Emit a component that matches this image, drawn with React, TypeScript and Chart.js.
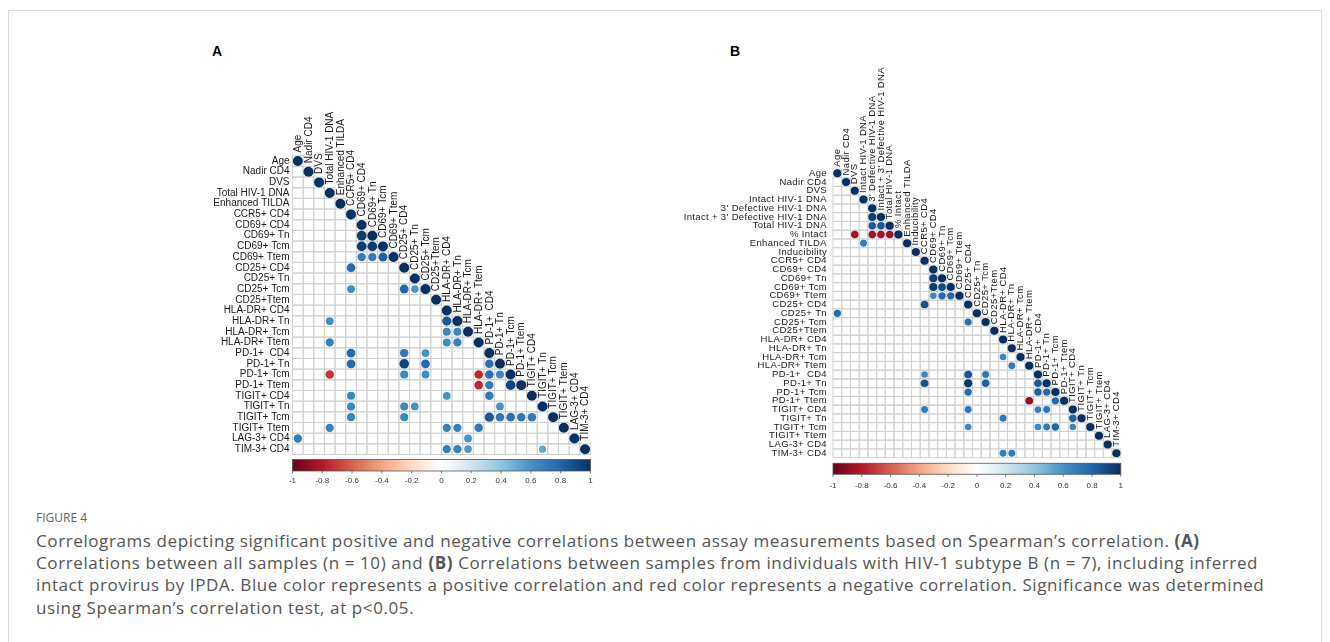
import React, { useEffect, useRef } from "react";
import { Chart, registerables } from "chart.js";
Chart.register(...registerables);

// ---------- DATA ----------
const labelsA = [
  "Age", "Nadir CD4", "DVS", "Total HIV-1 DNA", "Enhanced TILDA", "CCR5+ CD4",
  "CD69+ CD4", "CD69+ Tn", "CD69+ Tcm", "CD69+ Ttem", "CD25+ CD4", "CD25+ Tn",
  "CD25+ Tcm", "CD25+Ttem", "HLA-DR+ CD4", "HLA-DR+ Tn", "HLA-DR+ Tcm", "HLA-DR+ Ttem",
  "PD-1+  CD4", "PD-1+ Tn", "PD-1+ Tcm", "PD-1+ Ttem", "TIGIT+ CD4", "TIGIT+ Tn",
  "TIGIT+ Tcm", "TIGIT+ Ttem", "LAG-3+ CD4", "TIM-3+ CD4",
];

// [row, col, rho] significant off-diagonal correlations (lower triangle)
const corrA: [number, number, number][] = [
  [7, 6, 0.95], [8, 6, 0.95], [8, 7, 0.95], [9, 6, 0.7], [9, 7, 0.7], [9, 8, 0.82],
  [10, 5, 0.78],
  [12, 5, 0.62], [12, 10, 0.8], [12, 11, 0.58],
  [15, 3, 0.62], [15, 14, 0.85],
  [16, 14, 0.65], [16, 15, 0.65],
  [17, 3, 0.68], [17, 14, 0.62], [17, 15, 0.68],
  [18, 5, 0.78], [18, 10, 0.72], [18, 12, 0.6],
  [19, 5, 0.78], [19, 10, 0.92], [19, 12, 0.78], [19, 18, 0.75],
  [20, 3, -0.72], [20, 10, 0.66], [20, 12, 0.62], [20, 17, -0.75], [20, 18, 0.75], [20, 19, 0.65],
  [21, 17, -0.75], [21, 18, 0.7], [21, 20, 0.93],
  [22, 5, 0.65], [22, 14, 0.6], [22, 18, 0.72],
  [23, 5, 0.65], [23, 10, 0.65], [23, 11, 0.6], [23, 19, 0.6],
  [24, 5, 0.65], [24, 10, 0.65], [24, 18, 0.85], [24, 19, 0.72], [24, 20, 0.75], [24, 21, 0.72], [24, 22, 0.72],
  [25, 3, 0.68], [25, 14, 0.68], [25, 15, 0.68], [25, 17, 0.72],
  [26, 0, 0.7], [26, 16, 0.6],
  [27, 14, 0.68], [27, 15, 0.68], [27, 16, 0.58], [27, 23, 0.52],
];

const labelsB = [
  "Age", "Nadir CD4", "DVS", "Intact HIV-1 DNA", "3' Defective HIV-1 DNA",
  "Intact + 3' Defective HIV-1 DNA", "Total HIV-1 DNA", "% Intact", "Enhanced TILDA",
  "Inducibility", "CCR5+ CD4", "CD69+ CD4", "CD69+ Tn", "CD69+ Tcm", "CD69+ Ttem",
  "CD25+ CD4", "CD25+ Tn", "CD25+ Tcm", "CD25+Ttem", "HLA-DR+ CD4", "HLA-DR+ Tn",
  "HLA-DR+ Tcm", "HLA-DR+ Ttem", "PD-1+  CD4", "PD-1+ Tn", "PD-1+ Tcm", "PD-1+ Ttem",
  "TIGIT+ CD4", "TIGIT+ Tn", "TIGIT+ Tcm", "TIGIT+ Ttem", "LAG-3+ CD4", "TIM-3+ CD4",
];

const corrB: [number, number, number][] = [
  [5, 4, 0.95], [6, 4, 0.85], [6, 5, 0.85],
  [7, 2, -0.85], [7, 4, -0.85], [7, 5, -0.85], [7, 6, -0.85],
  [8, 3, 0.7],
  [12, 11, 0.95], [13, 11, 0.95], [13, 12, 0.9], [14, 11, 0.65], [14, 12, 0.78], [14, 13, 0.78],
  [15, 10, 0.88],
  [16, 0, 0.78],
  [17, 15, 0.75],
  [21, 19, 0.65], [22, 20, 0.7],
  [23, 10, 0.65], [23, 15, 0.88], [23, 17, 0.72],
  [24, 10, 0.88], [24, 15, 0.97], [24, 17, 0.82], [24, 23, 0.85],
  [25, 15, 0.78], [25, 23, 0.82], [25, 24, 0.78],
  [26, 22, -0.88], [26, 25, 0.78],
  [27, 10, 0.7], [27, 15, 0.72], [27, 23, 0.68], [27, 24, 0.72],
  [28, 19, 0.72], [28, 27, 0.82],
  [29, 15, 0.65], [29, 23, 0.65], [29, 24, 0.7], [29, 25, 0.8], [29, 27, 0.65],
  [32, 19, 0.7], [32, 20, 0.7],
];

const colorbarTicks = [-1, -0.8, -0.6, -0.4, -0.2, 0, 0.2, 0.4, 0.6, 0.8, 1];
const colorbarTickText = ["-1", "-0.8", "-0.6", "-0.4", "-0.2", "0", "0.2", "0.4", "0.6", "0.8", "1"];
const rdbu = ["#67001F", "#B2182B", "#D6604D", "#F4A582", "#FDDBC7", "#FFFFFF",
  "#D1E5F0", "#92C5DE", "#4393C3", "#2166AC", "#053061"];

const captionLine1 = "Correlograms depicting significant positive and negative correlations between assay measurements based on Spearman\u2019s correlation. ";
const captionLine2a = "Correlations between all samples (n = 10) and ";
const captionLine2b = " Correlations between samples from individuals with HIV-1 subtype B (n = 7), including inferred";
const captionLine3 = "intact provirus by IPDA. Blue color represents a positive correlation and red color represents a negative correlation. Significance was determined";
const captionLine4 = "using Spearman\u2019s correlation test, at p<0.05.";

// ---------- helpers ----------
function hexToRgb(h: string) {
  return [parseInt(h.slice(1, 3), 16), parseInt(h.slice(3, 5), 16), parseInt(h.slice(5, 7), 16)];
}
function rdbuColor(v: number) {
  const t = Math.max(0, Math.min(1, (v + 1) / 2)) * (rdbu.length - 1);
  const i = Math.min(rdbu.length - 2, Math.floor(t));
  const f = t - i;
  const a = hexToRgb(rdbu[i]);
  const b = hexToRgb(rdbu[i + 1]);
  const c = a.map((x, k) => Math.round(x + (b[k] - x) * f));
  return `rgb(${c[0]},${c[1]},${c[2]})`;
}

const FONT = '"Liberation Sans", Arial, Helvetica, sans-serif';

type Panel = {
  labels: string[];
  corr: [number, number, number][];
  left: number; top: number; width: number; height: number;
  grid: { l: number; t: number; r: number; b: number };
  fontSize: number; ls: number; rowGap: number; colOff: number; colDx: number;
  cbGap: number; cbH: number; cbLabelOff: number; cbFont: number;
};

const panelA: Panel = {
  labels: labelsA, corr: corrA,
  left: 180, top: 20, width: 440, height: 500,
  grid: { l: 292.5, t: 155.7, r: 590.4, b: 454.5 },
  fontSize: 10, ls: 0, rowGap: 3, colOff: 8.5, colDx: 0.5,
  cbGap: 5, cbH: 11.5, cbLabelOff: 10, cbFont: 8,
};

const panelB: Panel = {
  labels: labelsB, corr: corrB,
  left: 660, top: 20, width: 480, height: 500,
  grid: { l: 833, t: 168.9, r: 1120.8, b: 457.65 },
  fontSize: 9.5, ls: 0.35, rowGap: 6, colOff: 6.6, colDx: 0,
  cbGap: 5.6, cbH: 11, cbLabelOff: 11.5, cbFont: 8,
};

const decorPlugin = {
  id: "corrDecor",
  beforeDatasetsDraw(chart: any, _args: any, opts: any) {
    const { ctx } = chart;
    const xs = chart.scales.x, ys = chart.scales.y;
    const n = opts.labels.length;
    ctx.save();
    ctx.strokeStyle = "#d2d2d2";
    ctx.lineWidth = 1;
    for (let i = 0; i < n; i++) {
      for (let j = 0; j <= i; j++) {
        const l = xs.getPixelForValue(j - 0.5), r = xs.getPixelForValue(j + 0.5);
        const t = ys.getPixelForValue(i - 0.5), b = ys.getPixelForValue(i + 0.5);
        ctx.strokeRect(l, t, r - l, b - t);
      }
    }
    ctx.restore();
  },
  afterDraw(chart: any, _args: any, opts: any) {
    const { ctx, chartArea } = chart;
    const xs = chart.scales.x, ys = chart.scales.y, cb = chart.scales.cb;
    const labels: string[] = opts.labels;
    ctx.save();
    ctx.fillStyle = "#1a1a1a";
    ctx.font = `${opts.fontSize}px ${FONT}`;
    (ctx as any).letterSpacing = `${opts.ls}px`;
    ctx.textBaseline = "middle";
    ctx.textAlign = "right";
    labels.forEach((lab, i) => {
      ctx.fillText(lab, chartArea.left - opts.rowGap, ys.getPixelForValue(i));
    });
    ctx.textAlign = "left";
    labels.forEach((lab, j) => {
      ctx.save();
      ctx.translate(xs.getPixelForValue(j) + opts.colDx, ys.getPixelForValue(j) - opts.colOff);
      ctx.rotate(-Math.PI / 2);
      ctx.fillText(lab, 0, 0);
      ctx.restore();
    });
    (ctx as any).letterSpacing = "0px";
    const x0 = cb.getPixelForValue(-1), x1 = cb.getPixelForValue(1);
    const top = chartArea.bottom + opts.cbGap;
    const g = ctx.createLinearGradient(x0, 0, x1, 0);
    rdbu.forEach((c, k) => g.addColorStop(k / (rdbu.length - 1), c));
    ctx.fillStyle = g;
    ctx.fillRect(x0, top, x1 - x0, opts.cbH);
    ctx.strokeStyle = "#555";
    ctx.lineWidth = 0.8;
    ctx.strokeRect(x0, top, x1 - x0, opts.cbH);
    ctx.fillStyle = "#333";
    ctx.font = `${opts.cbFont}px ${FONT}`;
    ctx.textAlign = "center";
    colorbarTicks.forEach((v, k) => {
      const px = cb.getPixelForValue(v);
      ctx.beginPath();
      ctx.moveTo(px, top + opts.cbH);
      ctx.lineTo(px, top + opts.cbH + 2.5);
      ctx.stroke();
      ctx.fillText(colorbarTickText[k], px, top + opts.cbH + opts.cbLabelOff);
    });
    ctx.restore();
  },
};

function CorrPanel({ p }: { p: Panel }) {
  const ref = useRef<HTMLCanvasElement | null>(null);
  useEffect(() => {
    const n = p.labels.length;
    const pts = p.labels.map((_, i) => ({ x: i, y: i, v: 1 }))
      .concat(p.corr.map(([r, c, v]) => ({ x: c, y: r, v })));
    const radius = (ctx: any) => {
      const xs = ctx.chart.scales.x;
      const cw = Math.abs(xs.getPixelForValue(1) - xs.getPixelForValue(0));
      const v = ctx.raw ? ctx.raw.v : 1;
      return 0.47 * cw * Math.sqrt(Math.abs(v));
    };
    const chart = new Chart(ref.current as HTMLCanvasElement, {
      type: "scatter",
      data: {
        datasets: [{
          data: pts as any,
          pointRadius: radius as any,
          pointHoverRadius: radius as any,
          pointBorderWidth: 0,
          pointBackgroundColor: ((ctx: any) => rdbuColor(ctx.raw ? ctx.raw.v : 1)) as any,
        }],
      },
      options: {
        animation: false,
        responsive: false,
        devicePixelRatio: 1,
        events: [],
        layout: {
          padding: {
            left: p.grid.l - p.left,
            top: p.grid.t - p.top,
            right: p.left + p.width - p.grid.r,
            bottom: p.top + p.height - p.grid.b,
          },
        },
        scales: {
          x: { type: "linear", min: -0.5, max: n - 0.5, display: false },
          y: { type: "linear", min: -0.5, max: n - 0.5, reverse: true, display: false },
          cb: { type: "linear", axis: "x", min: -1, max: 1, display: false },
        } as any,
        plugins: {
          legend: { display: false },
          tooltip: { enabled: false },
          corrDecor: {
            labels: p.labels, fontSize: p.fontSize, ls: p.ls, rowGap: p.rowGap,
            colOff: p.colOff, colDx: p.colDx, cbGap: p.cbGap, cbH: p.cbH,
            cbLabelOff: p.cbLabelOff, cbFont: p.cbFont,
          },
        } as any,
      },
      plugins: [decorPlugin as any],
    });
    return () => chart.destroy();
  }, [p]);
  return (
    <canvas
      ref={ref}
      width={p.width}
      height={p.height}
      style={{ position: "absolute", left: p.left, top: p.top, width: p.width, height: p.height, display: "block" }}
    />
  );
}

export default function App() {
  const capStyle: React.CSSProperties = {
    position: "absolute", left: 36, top: 529.5, fontFamily: '"Open Sans", "Noto Sans", sans-serif',
    fontSize: 17, letterSpacing: "0.6px", lineHeight: "22.4px", color: "#555", whiteSpace: "nowrap",
  };
  return (
    <div style={{ position: "absolute", left: 0, top: 0, width: 1330, height: 642, overflow: "hidden", background: "#fff" }}>
      <div style={{ position: "absolute", left: 8, top: 10, width: 1312, height: 700, border: "1px solid #dedede" }} />
      <div style={{ position: "absolute", left: 212, top: 43, font: `bold 14px ${FONT}`, color: "#000" }}>A</div>
      <div style={{ position: "absolute", left: 730, top: 43, font: `bold 14px ${FONT}`, color: "#000" }}>B</div>
      <CorrPanel p={panelA} />
      <CorrPanel p={panelB} />
      <div style={{ position: "absolute", left: 36, top: 510, fontFamily: '"Open Sans", "Noto Sans", sans-serif', fontSize: 12, lineHeight: "15px", color: "#666" }}>FIGURE 4</div>
      <div style={capStyle}>
        <div>{captionLine1}<b>(A)</b></div>
        <div>{captionLine2a}<b>(B)</b>{captionLine2b}</div>
        <div>{captionLine3}</div>
        <div>{captionLine4}</div>
      </div>
    </div>
  );
}
